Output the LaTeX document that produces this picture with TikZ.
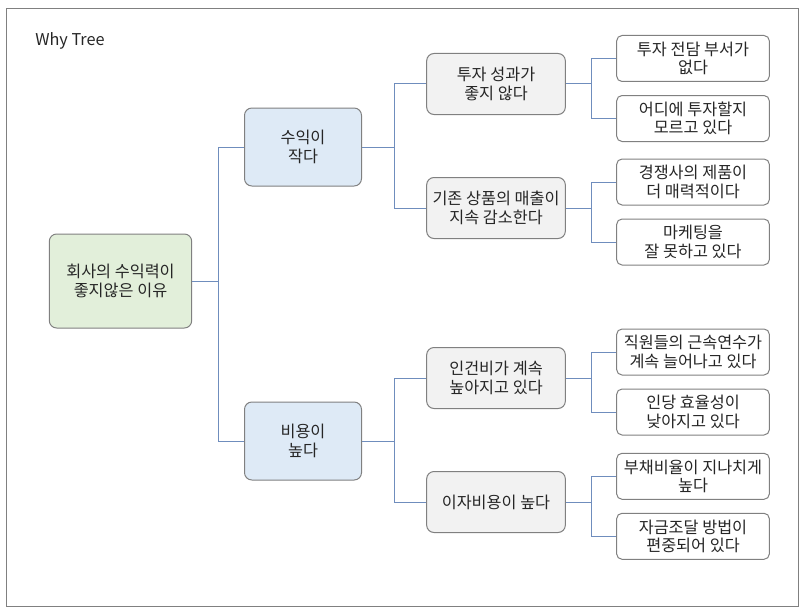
\documentclass[tikz,border=0pt]{standalone}
\usepackage{fontspec}
\setmainfont{Noto Sans CJK KR}
\definecolor{boxline}{HTML}{808080}
\definecolor{conn}{HTML}{6F8DBD}
\definecolor{rootfill}{HTML}{E2EFDA}
\definecolor{bluefill}{HTML}{DEEAF6}
\definecolor{greyfill}{HTML}{F2F2F2}
\definecolor{txt}{HTML}{262626}
\begin{document}
\begin{tikzpicture}[x=0.75pt,y=-0.75pt,
  every node/.style={font=\fontsize{12.2}{14}\selectfont, text=txt},
  basebox/.style={draw=boxline, line width=0.75pt, rounded corners=5.5pt, align=center, inner sep=0pt},
  rootbox/.style={basebox, fill=rootfill, minimum width=106.8pt, minimum height=70.5pt},
  lvlone/.style={basebox, fill=bluefill, minimum width=87.75pt, minimum height=58.5pt},
  lvltwo/.style={basebox, fill=greyfill, minimum width=104pt, minimum height=45.75pt},
  lvlthree/.style={basebox, fill=white, rounded corners=4pt, minimum width=114.5pt, minimum height=34.5pt},
  link/.style={draw=conn, line width=0.75pt}
]
\useasboundingbox (0,0) rectangle (806,610);
\draw[draw=boxline, line width=0.75pt] (6.5,8.5) rectangle (798,606);
\node[anchor=west, inner sep=0pt] (title) at (35,41) {Why Tree};

\node[rootbox] (root) at (120.5,281) {회사의 수익력이\\좋지않은 이유};

\node[lvlone] (a) at (303,147) {수익이\\작다};
\node[lvlone] (b) at (303,441) {비용이\\높다};

\node[lvltwo] (a1) at (496,84) {투자 성과가\\좋지 않다};
\node[lvltwo] (a2) at (496,208) {기존 상품의 매출이\\지속 감소한다};
\node[lvltwo] (b1) at (496,378) {인건비가 계속\\높아지고 있다};
\node[lvltwo] (b2) at (496,502) {이자비용이 높다};

\node[lvlthree] (a11) at (693,58.5) {투자 전담 부서가\\없다};
\node[lvlthree] (a12) at (693,118.5) {어디에 투자할지\\모르고 있다};
\node[lvlthree] (a21) at (693,182) {경쟁사의 제품이\\더 매력적이다};
\node[lvlthree] (a22) at (693,242) {마케팅을\\잘 못하고 있다};
\node[lvlthree] (b11) at (693,352) {직원들의 근속연수가\\계속 늘어나고 있다};
\node[lvlthree] (b12) at (693,412) {인당 효율성이\\낮아지고 있다};
\node[lvlthree] (b21) at (693,476.3) {부채비율이 지나치게\\높다};
\node[lvlthree] (b22) at (693,536.3) {자금조달 방법이\\편중되어 있다};

\coordinate (j0) at (218,281);
\coordinate (ja) at (394,147);
\coordinate (jb) at (394,441);
\coordinate (ja1) at (591,84);
\coordinate (ja2) at (591,208);
\coordinate (jb1) at (591,378);
\coordinate (jb2) at (591,502);

\draw[link] (root.east) -- (j0) |- (a.west);
\draw[link] (j0) |- (b.west);
\draw[link] (a.east) -- (ja) |- (a1.west);
\draw[link] (ja) |- (a2.west);
\draw[link] (b.east) -- (jb) |- (b1.west);
\draw[link] (jb) |- (b2.west);
\draw[link] (a1.east) -- (ja1) |- (a11.west);
\draw[link] (ja1) |- (a12.west);
\draw[link] (a2.east) -- (ja2) |- (a21.west);
\draw[link] (ja2) |- (a22.west);
\draw[link] (b1.east) -- (jb1) |- (b11.west);
\draw[link] (jb1) |- (b12.west);
\draw[link] (b2.east) -- (jb2) |- (b21.west);
\draw[link] (jb2) |- (b22.west);
\end{tikzpicture}
\end{document}
